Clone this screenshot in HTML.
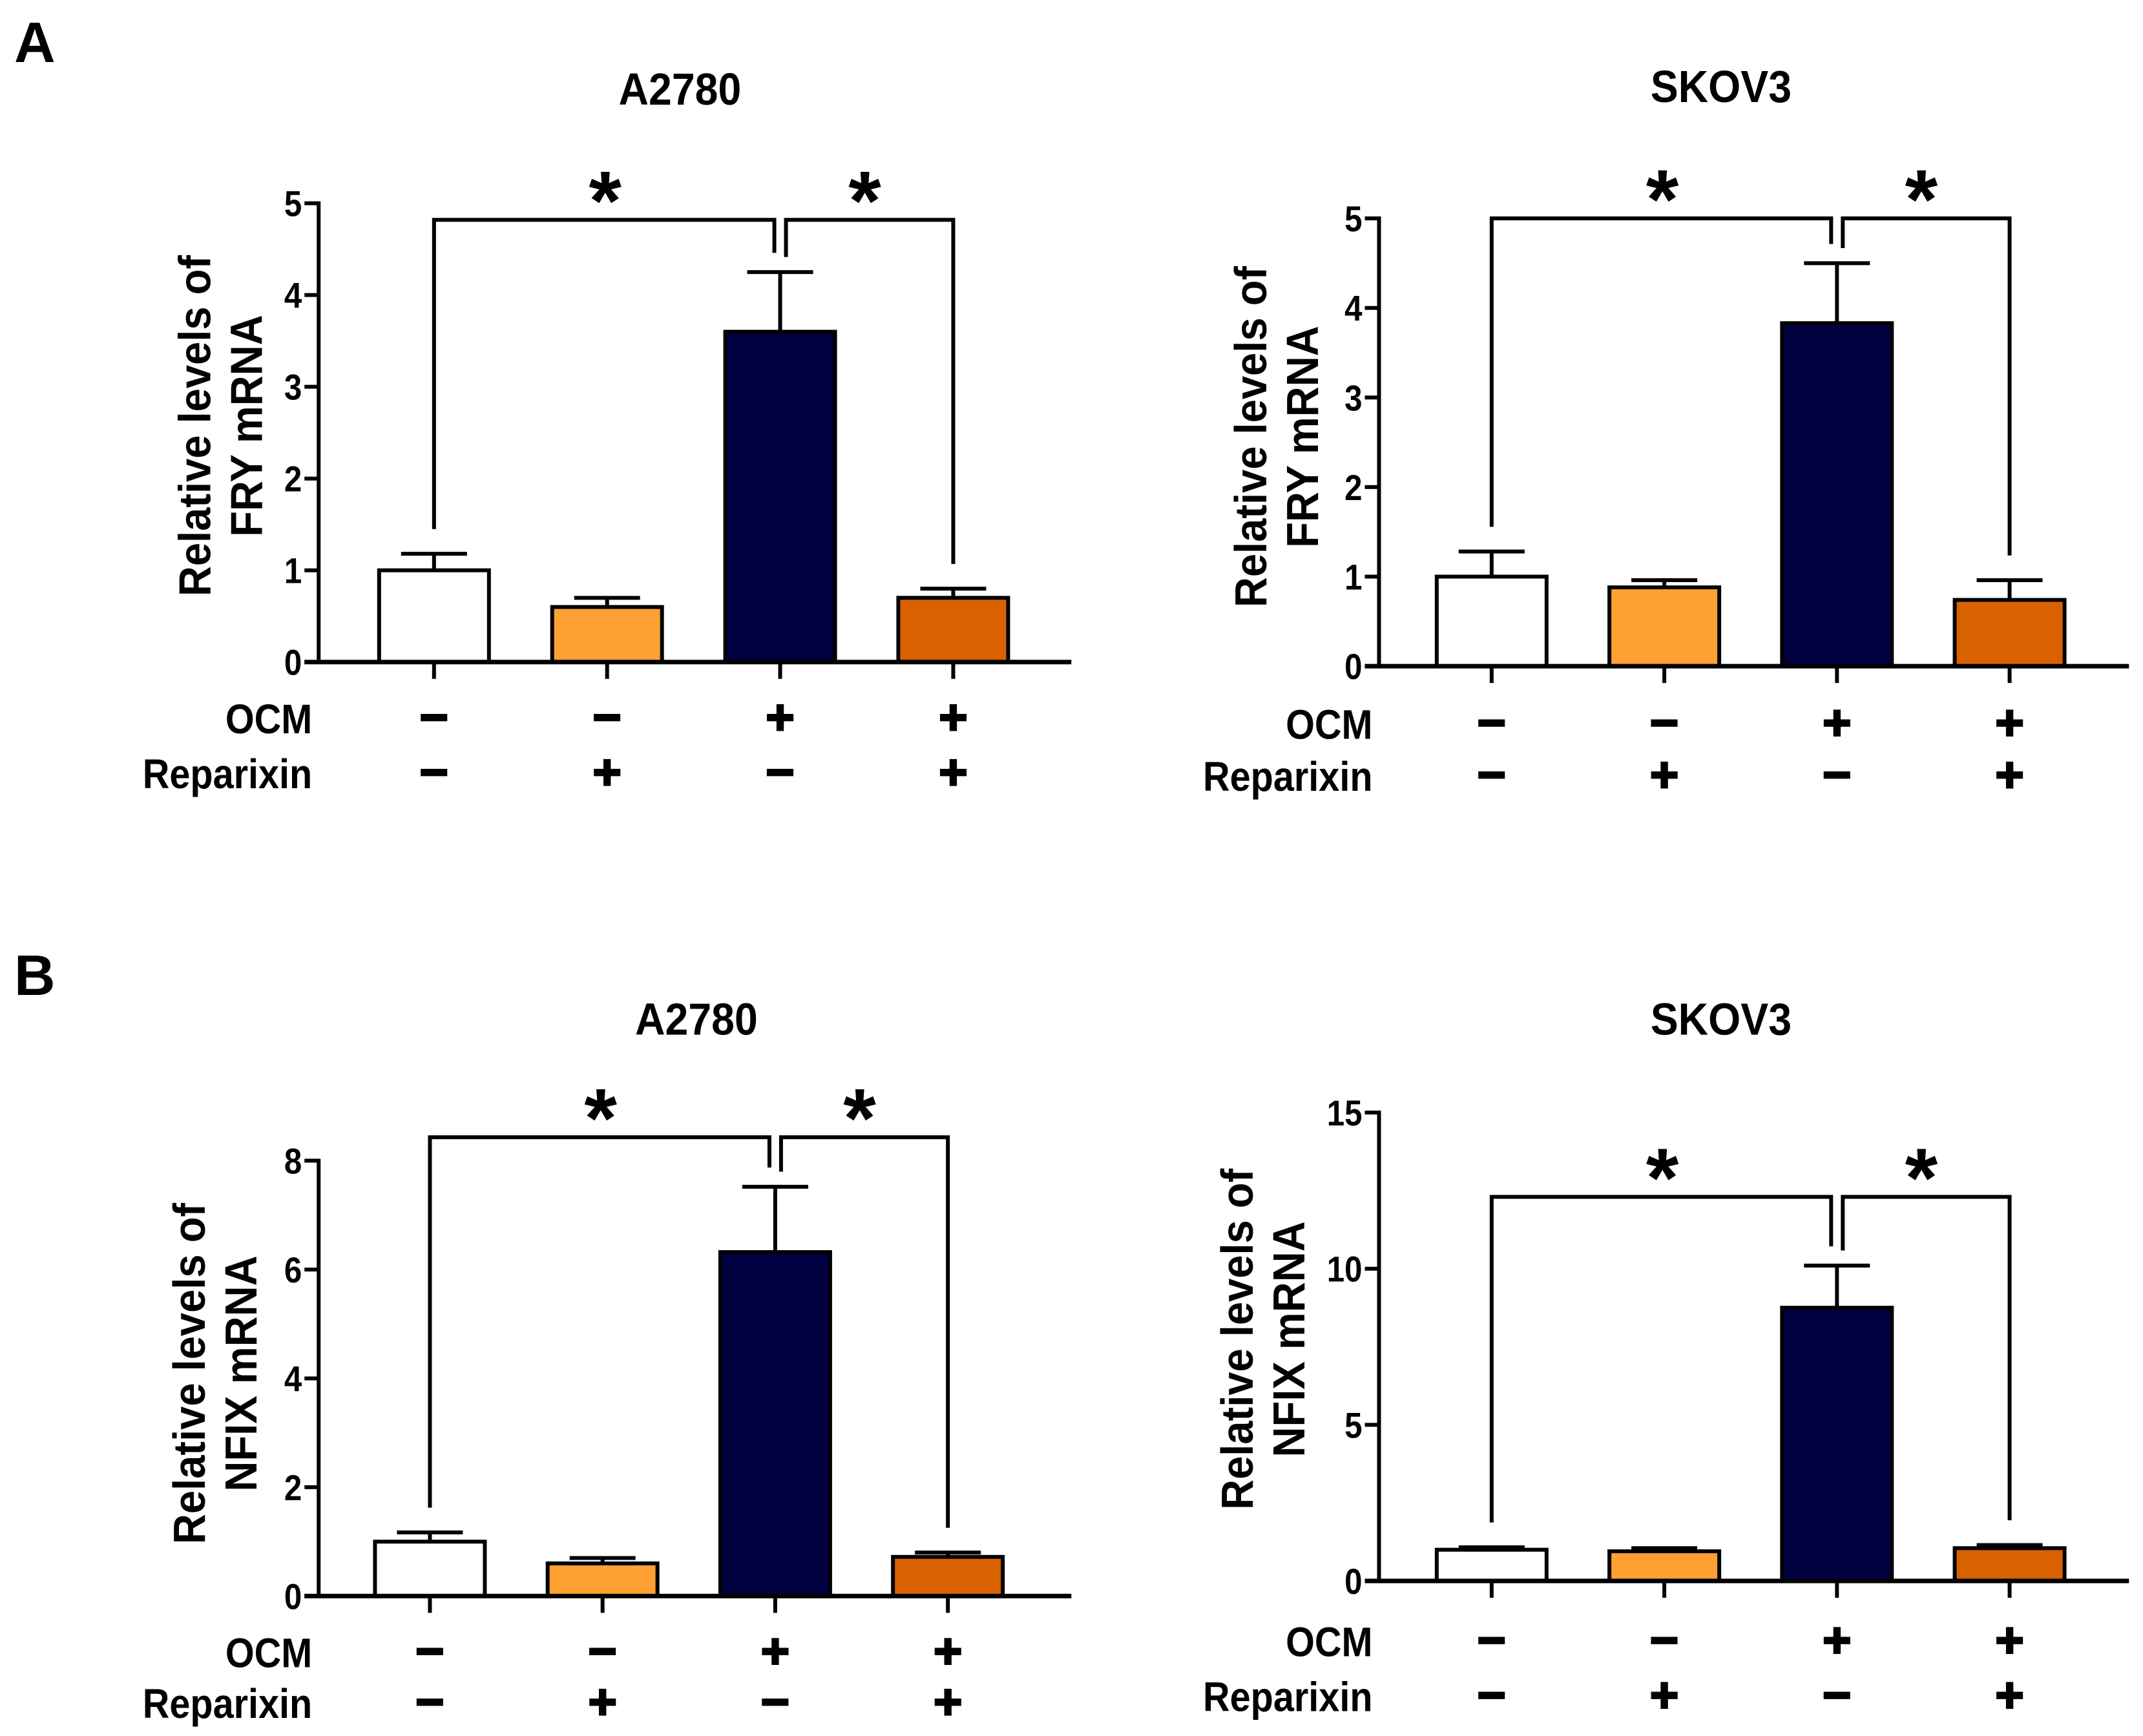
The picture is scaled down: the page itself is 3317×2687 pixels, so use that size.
<!DOCTYPE html>
<html><head><meta charset="utf-8">
<style>
html,body{margin:0;padding:0;background:#fff;}
svg{display:block;}
text{font-family:"Liberation Sans",Arial,sans-serif;font-weight:bold;fill:#000;}
</style></head>
<body>
<svg id="fig" xmlns="http://www.w3.org/2000/svg" width="3317" height="2687" viewBox="0 0 3317 2687">
<rect width="3317" height="2687" fill="#fff"/>
<text x="22" y="96" font-size="88">A</text>
<text x="22" y="1540" font-size="88">B</text>
</svg>
<script>
const K = 2.126;
const groups = ["Ctrl","Reparixin","OCM","OCM+Reparixin"];
const colors = ["#ffffff","#ffa033","#000040","#da6100"];
const ocmSigns = ["−","−","+","+"];
const repSigns = ["−","+","−","+"];
// panel A-left (FRY, A2780)
const aLeftValues = [1.0, 0.6, 3.6, 0.7];
const aLeftErrors = [1.18, 0.7, 4.25, 0.8];
const aLeftTicks = [0,1,2,3,4,5];
// panel A-right (FRY, SKOV3)
const aRightValues = [1.0, 0.88, 3.83, 0.74];
const aRightErrors = [1.28, 0.96, 4.5, 0.96];
const aRightTicks = [0,1,2,3,4,5];
// panel B-left (NFIX, A2780)
const bLeftValues = [1.0, 0.6, 6.32, 0.72];
const bLeftErrors = [1.17, 0.7, 7.52, 0.8];
const bLeftTicks = [0,2,4,6,8];
// panel B-right (NFIX, SKOV3)
const bRightValues = [1.0, 0.95, 8.75, 1.05];
const bRightErrors = [1.08, 1.05, 10.1, 1.15];
const bRightTicks = [0,5,10,15];
const bracketLevels = [4.82, 5.0, 8.43, 12.3];

const NS = "http://www.w3.org/2000/svg";
const svg = document.getElementById("fig");
function el(tag, attrs, parent){
  const e = document.createElementNS(NS, tag);
  for (const k in attrs) e.setAttribute(k, attrs[k]);
  (parent||svg).appendChild(e);
  return e;
}
function txt(str, attrs, parent){ const t = el("text", attrs, parent); t.textContent = str; return t; }

function panel(id, layout, title, ylab2, values, errors, ticks, bracket){
  const g = el("g", {});
  
  
  const ax = layout.ax*K, y0 = layout.y0*K, yTop = layout.yTop*K, xEnd = layout.xEnd*K;
  const ymax = ticks[ticks.length-1];
  const Y = v => y0 - (v/ymax)*(y0-yTop);
  const X = i => layout.c0*K + i*layout.step*K;
  const bw = 170;
  const sw = 6;
  const t = el("text", {transform:`translate(${layout.titleX*K},${layout.titleY*K + 24}) scale(0.92,1)`, "font-size": 70, "text-anchor":"middle"}, g);
  t.textContent = title;
  
  
  const yt = el("text", {transform:`translate(${layout.ytX*K},${layout.ytY*K}) rotate(-90) scale(0.93,1)`, "font-size":70, "text-anchor":"middle"}, g);
  
  
  const t1 = el("tspan", {x:0, y:0}, yt); t1.textContent = "Relative levels of";
  const t2 = el("tspan", {x:0, y:80}, yt); t2.textContent = ylab2;
  values.forEach((v,i)=>{
    const cx = X(i);
    const eb = el("line", {x1:cx, x2:cx, y1:Y(v), y2:Y(errors[i]), stroke:"#000","stroke-width":sw}, g);
    
    
    const cap = el("line", {x1:cx-bw*0.3, x2:cx+bw*0.3, y1:Y(errors[i]), y2:Y(errors[i]), stroke:"#000","stroke-width":sw}, g);
    
    
    const r = el("rect", {x:cx-bw/2, y:Y(v), width:bw, height:y0-Y(v), fill:colors[i], stroke:"#000","stroke-width":sw}, g);
    
    
    const tk = el("line", {x1:cx, x2:cx, y1:y0, y2:y0+26, stroke:"#000","stroke-width":sw}, g);
    
    
    const s1 = txt(ocmSigns[i], {x:cx, y:layout.ocmY*K+24, "font-size":76, "text-anchor":"middle", stroke:"#000","stroke-width":3}, g);
    
    
    const s2 = txt(repSigns[i], {x:cx, y:layout.repY*K+24, "font-size":76, "text-anchor":"middle", stroke:"#000","stroke-width":3}, g);
    
    
  });
  const l1 = el("text", {transform:`translate(${layout.ax*K-10},${layout.ocmY*K+23}) scale(0.9,1)`, "font-size":64, "text-anchor":"end"}, g);
  l1.textContent = "OCM";
  
  
  const l2 = el("text", {transform:`translate(${layout.ax*K-10},${layout.repY*K+23}) scale(0.9,1)`, "font-size":64, "text-anchor":"end"}, g);
  l2.textContent = "Reparixin";
  
  
  const ya = el("line", {x1:ax, x2:ax, y1:yTop-3, y2:y0+3, stroke:"#000","stroke-width":sw}, g);
  
  
  const xa = el("line", {x1:ax-22, x2:xEnd, y1:y0, y2:y0, stroke:"#000","stroke-width":sw+1}, g);
  
  
  ticks.forEach(v=>{
    const tl = el("line", {x1:ax-22, x2:ax, y1:Y(v), y2:Y(v), stroke:"#000","stroke-width":sw}, g);
    
    
    const lb = el("text", {transform:`translate(${ax-26},${Y(v)+20}) scale(0.88,1)`, "font-size":56, "text-anchor":"end"}, g);
    lb.textContent = String(v);
    
    
  });
  const by = Y(bracket);
  const gap = 18*K;
  const mid = X(2);
  const p1 = el("polyline", {points:`${X(0)},${Y(errors[0])-gap} ${X(0)},${by} ${mid-9},${by} ${mid-9},${Y(errors[2])-14*K}`, fill:"none", stroke:"#000","stroke-width":sw}, g);
  
  
  const p2 = el("polyline", {points:`${mid+9},${Y(errors[2])-11*K} ${mid+9},${by} ${X(3)},${by} ${X(3)},${Y(errors[3])-gap}`, fill:"none", stroke:"#000","stroke-width":sw}, g);
  
  
  [(X(0)+mid)/2, (mid+X(3))/2].forEach(sx=>{
    const st = txt("*", {x:sx-3, y:by-22*K+62, "font-size":130, "text-anchor":"middle"}, g);
    
    
  });
}

panel("panel-a-a2780", {ax:232,y0:482,yTop:148,xEnd:780,c0:316,step:126,titleX:495,titleY:65,ytX:153,ytY:310,ocmY:523,repY:563},
  "A2780","FRY mRNA", aLeftValues, aLeftErrors, aLeftTicks, bracketLevels[0]);
panel("panel-a-skov3", {ax:1004,y0:485,yTop:159,xEnd:1550,c0:1086,step:125.7,titleX:1253,titleY:63,ytX:922,ytY:318,ocmY:527,repY:565},
  "SKOV3","FRY mRNA", aRightValues, aRightErrors, aRightTicks, bracketLevels[1]);
panel("panel-b-a2780", {ax:232,y0:1162,yTop:845,xEnd:780,c0:313,step:125.7,titleX:507,titleY:742,ytX:149,ytY:1000,ocmY:1203,repY:1240},
  "A2780","NFIX mRNA", bLeftValues, bLeftErrors, bLeftTicks, bracketLevels[2]);
panel("panel-b-skov3", {ax:1004,y0:1151,yTop:810,xEnd:1550,c0:1086,step:125.7,titleX:1253,titleY:742,ytX:912,ytY:975,ocmY:1195,repY:1235},
  "SKOV3","NFIX mRNA", bRightValues, bRightErrors, bRightTicks, bracketLevels[3]);
</script>
</body></html>
